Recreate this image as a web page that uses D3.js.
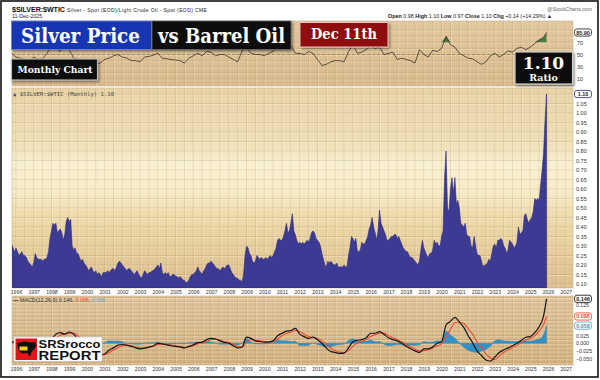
<!DOCTYPE html>
<html><head><meta charset="utf-8">
<script src="https://cdn.jsdelivr.net/npm/d3@7"></script>
<style>body{margin:0;background:#fff}svg{display:block}</style>
</head><body><svg id="c" width="600" height="380"></svg>
<script>
// ---------- DATA ----------
const firstYear = 1995, firstMonth = 9; // series starts October 1995 (monthly)
const ratio = [
0.31,0.29,0.27,
0.29,0.27,0.25,0.26,0.27,0.25,0.25,0.24,0.22,0.21,0.20,0.19,
0.21,0.26,0.24,0.23,0.23,0.23,0.22,0.23,0.23,0.24,0.27,0.34,
0.38,0.42,0.41,0.42,0.37,0.38,0.39,0.37,0.33,0.36,0.43,0.45,
0.43,0.44,0.30,0.28,0.29,0.26,0.26,0.24,0.22,0.23,0.21,0.20,
0.19,0.17,0.18,0.19,0.17,0.16,0.17,0.15,0.16,0.15,0.14,0.16,
0.16,0.16,0.17,0.16,0.17,0.18,0.18,0.17,0.19,0.21,0.22,0.21,
0.20,0.19,0.18,0.17,0.18,0.18,0.17,0.16,0.15,0.16,0.17,0.15,
0.14,0.13,0.15,0.17,0.16,0.15,0.16,0.16,0.17,0.17,0.18,0.19,
0.20,0.18,0.21,0.16,0.15,0.16,0.15,0.16,0.14,0.14,0.15,0.15,
0.14,0.14,0.13,0.14,0.13,0.12,0.12,0.105,0.11,0.12,0.14,0.15,
0.15,0.16,0.17,0.19,0.17,0.16,0.15,0.17,0.18,0.20,0.21,0.21,
0.22,0.21,0.20,0.19,0.18,0.18,0.17,0.18,0.19,0.18,0.19,0.20,
0.20,0.18,0.16,0.15,0.14,0.13,0.13,0.12,0.12,0.11,0.15,0.25,
0.30,0.29,0.26,0.25,0.22,0.21,0.22,0.25,0.24,0.23,0.24,0.23,
0.23,0.24,0.23,0.24,0.25,0.24,0.25,0.27,0.29,0.33,0.34,0.33,
0.33,0.35,0.38,0.42,0.37,0.38,0.42,0.47,0.38,0.36,0.33,0.31,
0.32,0.31,0.32,0.31,0.32,0.33,0.32,0.34,0.37,0.38,0.37,0.34,
0.33,0.32,0.30,0.26,0.23,0.20,0.19,0.22,0.21,0.22,0.21,0.20,
0.20,0.21,0.19,0.19,0.19,0.19,0.20,0.19,0.19,0.25,0.29,0.35,
0.34,0.32,0.34,0.27,0.27,0.28,0.32,0.31,0.31,0.33,0.35,0.39,
0.41,0.45,0.40,0.37,0.33,0.38,0.49,0.42,0.40,0.38,0.36,0.33,
0.33,0.34,0.35,0.35,0.36,0.36,0.34,0.35,0.33,0.31,0.29,0.28,
0.27,0.27,0.25,0.24,0.24,0.23,0.22,0.21,0.20,0.22,0.28,0.33,
0.29,0.27,0.25,0.24,0.26,0.26,0.28,0.33,0.31,0.32,0.30,0.30,
0.35,0.38,0.66,0.80,0.50,0.48,0.60,0.66,0.58,0.66,0.52,0.54,
0.50,0.42,0.41,0.40,0.42,0.36,0.35,0.35,0.30,0.29,0.35,0.30,
0.26,0.25,0.25,0.22,0.19,0.20,0.20,0.21,0.23,0.22,0.26,0.30,
0.31,0.29,0.33,0.33,0.34,0.33,0.30,0.29,0.26,0.28,0.33,0.32,
0.31,0.29,0.30,0.32,0.40,0.36,0.37,0.38,0.46,0.47,0.44,0.42,
0.44,0.45,0.48,0.55,0.54,0.55,0.54,0.62,0.70,0.79,0.96,1.10
];
// indicator readings, every 3 months from Oct 1995, last one = Dec 2025
const rsi = [
52,
46,44,42,38, 46,42,43,52, 64,60,55,66, 58,44,42,40, 38,36,34,36,
42,44,48,50, 46,44,40,40, 38,46,47,49, 52,44,43,42, 41,40,36,44,
48,52,48,55, 54,48,50,50, 46,42,38,56, 62,52,50,50, 48,52,55,63,
62,65,66,52, 52,50,55,52, 42,32,34,38, 40,40,38,55, 66,52,54,58,
64,60,62,50, 52,54,42,44, 42,40,36,58, 50,46,57,55, 60,80,66,62,
52,48,44,43, 38,34,38,48, 52,46,50,56, 54,60,62,58, 62,68,74,78,
86
];
const macd = [
0.005,
0.003,-0.002,-0.006,-0.012, -0.014,-0.010,-0.008,-0.004, 0.012,0.030,0.035,0.030,
0.037,0.030,0.012,-0.004, -0.018,-0.028,-0.034,-0.038, -0.035,-0.022,-0.015,-0.006,
-0.004,-0.006,-0.010,-0.015, -0.018,-0.016,-0.012,-0.008, 0.000,-0.002,-0.005,-0.008,
-0.010,-0.012,-0.015,-0.010, -0.005,0.002,0.004,0.012, 0.016,0.014,0.008,0.003,
0.000,-0.008,-0.015,-0.012, 0.020,0.016,0.008,0.006, 0.004,0.004,0.008,0.025,
0.033,0.040,0.042,0.049, 0.030,0.022,0.016,0.020, 0.012,0.000,-0.016,-0.027,
-0.030,-0.033,-0.032,-0.015, 0.005,0.010,0.012,0.018, 0.033,0.033,0.038,0.030,
0.018,0.012,0.008,0.000, -0.010,-0.018,-0.025,-0.030, -0.018,-0.018,-0.012,0.000,
0.005,0.060,0.072,0.085, 0.070,0.052,0.025,0.002, -0.025,-0.040,-0.055,-0.058,
-0.045,-0.030,-0.022,-0.015, -0.008,0.000,0.010,0.020, 0.022,0.035,0.054,0.090,
0.146
];
const signal = [
0.004,
0.004,0.002,-0.002,-0.007, -0.011,-0.011,-0.010,-0.007, 0.000,0.015,0.027,0.030,
0.032,0.034,0.024,0.010, -0.004,-0.016,-0.026,-0.034, -0.037,-0.030,-0.022,-0.014,
-0.008,-0.006,-0.008,-0.012, -0.015,-0.016,-0.014,-0.010, -0.004,-0.002,-0.004,-0.006,
-0.008,-0.011,-0.013,-0.012, -0.008,-0.002,0.002,0.006, 0.012,0.014,0.011,0.006,
0.003,-0.003,-0.010,-0.013, 0.004,0.012,0.010,0.008, 0.006,0.005,0.006,0.014,
0.025,0.032,0.037,0.042, 0.038,0.030,0.022,0.019, 0.016,0.008,-0.004,-0.016,
-0.024,-0.029,-0.030,-0.024, -0.010,0.002,0.006,0.012, 0.022,0.028,0.033,0.033,
0.026,0.018,0.012,0.005, -0.004,-0.012,-0.019,-0.025, -0.024,-0.021,-0.016,-0.008,
-0.002,0.020,0.045,0.068, 0.070,0.065,0.048,0.030, 0.005,-0.015,-0.035,-0.048,
-0.053,-0.042,-0.030,-0.022, -0.014,-0.006,0.003,0.012, 0.015,0.025,0.040,0.062,
0.088
];
const hist = [
0.001,
-0.001,-0.004,-0.004,-0.005, -0.003,0.001,0.002,0.003, 0.012,0.015,0.008,0.000,
0.005,-0.004,-0.012,-0.014, -0.014,-0.012,-0.008,-0.004, 0.002,0.008,0.007,0.008,
0.004,0.000,-0.002,-0.003, -0.003,0.000,0.002,0.002, 0.004,0.000,-0.001,-0.002,
-0.002,-0.001,-0.002,0.002, 0.003,0.004,0.002,0.006, 0.004,0.000,-0.003,-0.003,
-0.003,-0.005,-0.005,0.001, 0.016,0.004,-0.002,-0.002, -0.002,-0.001,0.002,0.011,
0.008,0.008,0.005,0.007, -0.008,-0.008,-0.006,0.001, -0.004,-0.008,-0.012,-0.011,
-0.006,-0.004,-0.002,0.009, 0.015,0.008,0.006,0.006, 0.011,0.005,0.005,-0.003,
-0.008,-0.006,-0.004,-0.005, -0.006,-0.006,-0.006,-0.005, 0.006,0.003,0.004,0.008,
0.007,0.040,0.027,0.017, 0.000,-0.013,-0.023,-0.028, -0.030,-0.025,-0.020,-0.010,
0.008,0.012,0.008,0.007, 0.006,0.006,0.007,0.008, 0.007,0.010,0.014,0.028,
0.058
];
const yearTicks = d3.range(1996, 2028);
const ratioTicks = [0.10,0.15,0.20,0.25,0.30,0.35,0.40,0.45,0.50,0.55,0.60,0.65,0.70,0.75,0.80,0.85,0.90,0.95,1.00,1.05];
const macdGrid = [-0.050,-0.025,0.000,0.025,0.050,0.075,0.100,0.125];
const macdTicks = [-0.050,-0.025,0.000,0.025,0.125]; // others hidden behind value tags
const rsiTicks = [10,30,50,70];
const lastValue = "1.10";
const macdLabels = ["0.146","0.088","0.058"];
const rsiLast = "85.90";

// ---------- LAYOUT ----------
const svg = d3.select('#c');
const L = 12, R = 573;
const P = {top:[21,86], main:[88,288], macd:[296,365]};
const x = d3.scaleLinear().domain([1996, 2026]).range([16, 548]);
const yMain = d3.scaleLinear().domain([0.10, 1.10]).range([284, 94]);
const yMacd = d3.scaleLinear().domain([0, 0.125]).range([343.3, 305.2]);
const yRsi = d3.scaleLinear().domain([10, 70]).range([79, 42.3]);
const monthTime = i => firstYear + (firstMonth + i) / 12;
const sampleTime = i => monthTime(Math.min(3 * i, ratio.length - 1));
const FONT = "'Liberation Sans', Arial, sans-serif";
const SERIF = "'DejaVu Serif', serif";

const defs = svg.append('defs');
function grad(id, stops){
  const g = defs.append('linearGradient').attr('id', id).attr('x1',0).attr('y1',0).attr('x2',0).attr('y2',1);
  stops.forEach(s => g.append('stop').attr('offset', s[0]).attr('stop-color', s[1]));
}
grad('gTop', [[0,'#e2c89e'],[1,'#d8ba8c']]);
grad('gMain', [[0,'#e8d3a6'],[0.28,'#efe0b6'],[0.38,'#f8f0d0'],[0.52,'#f7ecc8'],[0.64,'#eedbab'],[1,'#dcbe8c']]);
grad('gMacd', [[0,'#e0c59b'],[1,'#d3b07e']]);
Object.entries(P).forEach(([k, v]) => {
  defs.append('clipPath').attr('id', 'clip-' + k).append('rect')
    .attr('x', L).attr('y', v[0]).attr('width', R - L).attr('height', v[1] - v[0]);
});
const sh = defs.append('filter').attr('id','sh').attr('x','-10%').attr('y','-10%').attr('width','130%').attr('height','140%');
sh.append('feDropShadow').attr('dx',1.5).attr('dy',1.5).attr('stdDeviation',1.2).attr('flood-color','#000').attr('flood-opacity',0.45);

// panel backgrounds + grid
function panel(key, fill, hTicks, yScale){
  const [t, b] = P[key];
  svg.append('rect').attr('x', L).attr('y', t).attr('width', R - L).attr('height', b - t)
    .attr('fill', `url(#${fill})`).attr('stroke', '#c9b08a').attr('stroke-width', 0.6);
  const g = svg.append('g').attr('clip-path', `url(#clip-${key})`);
  const vx = d3.range(1995.5, 2027.6, 0.5);
  g.selectAll('line.v').data(vx).join('line').attr('x1', d => x(d)).attr('x2', d => x(d))
    .attr('y1', t).attr('y2', b).attr('stroke', 'rgba(150,110,60,0.22)').attr('stroke-width', 0.8);
  g.selectAll('line.v2').data(vx).join('line').attr('x1', d => x(d) + 1).attr('x2', d => x(d) + 1)
    .attr('y1', t).attr('y2', b).attr('stroke', 'rgba(255,250,235,0.35)').attr('stroke-width', 0.8);
  g.selectAll('line.h').data(hTicks).join('line').attr('x1', L).attr('x2', R)
    .attr('y1', d => yScale(d)).attr('y2', d => yScale(d)).attr('stroke', 'rgba(150,110,60,0.22)').attr('stroke-width', 0.8);
  g.selectAll('line.h2').data(hTicks).join('line').attr('x1', L).attr('x2', R)
    .attr('y1', d => yScale(d) + 1).attr('y2', d => yScale(d) + 1).attr('stroke', 'rgba(255,250,235,0.35)').attr('stroke-width', 0.8);
  return g;
}
const gTop = panel('top', 'gTop', d3.range(10, 100, 10), yRsi);
const gMain = panel('main', 'gMain', ratioTicks.concat([1.10]), yMain);
const gMacd = panel('macd', 'gMacd', d3.range(-0.0625, 0.16, 0.0125), yMacd);

// ---------- TOP PANEL (RSI) ----------
const rsiPts = rsi.map((v, i) => [sampleTime(i), v]);
gTop.append('line').attr('x1', L).attr('x2', R).attr('y1', yRsi(50)).attr('y2', yRsi(50))
  .attr('stroke', '#8a7458').attr('stroke-width', 0.6).attr('stroke-dasharray', '3,2');
gTop.append('path').datum(rsiPts)
  .attr('d', d3.area().x(d => x(d[0])).y0(yRsi(70)).y1(d => yRsi(Math.max(70, d[1]))))
  .attr('fill', '#4d7a3a');
gTop.append('path').datum(rsiPts)
  .attr('d', d3.line().x(d => x(d[0])).y(d => yRsi(d[1])))
  .attr('fill', 'none').attr('stroke', '#3a3328').attr('stroke-width', 0.8);
const aRsi = svg.append('g').attr('transform', `translate(${R},0)`)
  .call(d3.axisRight(yRsi).tickValues(rsiTicks).tickSize(0).tickPadding(4).tickFormat(d3.format('d')));
aRsi.select('.domain').remove();
aRsi.attr('font-size', 5.5).attr('font-family', FONT).selectAll('text').attr('fill', '#333');
function tag(yv, txt, stroke, color){
  const g = svg.append('g');
  g.append('rect').attr('x', R + 1.5).attr('y', yv - 3.6).attr('width', 17).attr('height', 7.2).attr('rx', 2.5)
    .attr('fill', '#fff').attr('stroke', stroke).attr('stroke-width', 0.9);
  g.append('text').attr('x', R + 10).attr('y', yv + 2).attr('text-anchor', 'middle')
    .attr('font-size', 5.4).attr('font-family', FONT).attr('font-weight', 'bold').attr('fill', color).text(txt);
}
tag(yRsi(86), rsiLast, '#333', '#222');

// ---------- MAIN PANEL ----------
const rPts = ratio.map((v, i) => [monthTime(i), v]);
gMain.append('path').datum(rPts)
  .attr('d', d3.area().x(d => x(d[0])).y0(P.main[1]).y1(d => yMain(d[1])))
  .attr('fill', '#3d3a93').attr('stroke', '#2c2a7e').attr('stroke-width', 0.6);
const aMain = svg.append('g').attr('transform', `translate(${R},0)`)
  .call(d3.axisRight(yMain).tickValues(ratioTicks).tickSize(0).tickPadding(3).tickFormat(d3.format('.2f')));
aMain.select('.domain').remove();
aMain.attr('font-size', 5.5).attr('font-family', FONT).selectAll('text').attr('fill', '#333');
tag(yMain(1.10), lastValue, '#3d3a93', '#222');
const lg = svg.append('text').attr('x', 13).attr('y', 95.5).attr('font-size', 5.6).attr('font-family', "'DejaVu Sans Mono', monospace");
lg.append('tspan').attr('fill', '#3d3a93').text('▲ ');
lg.append('tspan').attr('fill', '#444').text('$SILVER:$WTIC (Monthly) 1.10');

// ---------- MACD PANEL ----------
const mPts = macd.map((v, i) => [sampleTime(i), v]);
const sPts = signal.map((v, i) => [sampleTime(i), v]);
const hPts = hist.map((v, i) => [sampleTime(i), v]);
gMacd.append('path').datum(hPts)
  .attr('d', d3.area().curve(d3.curveMonotoneX).x(d => x(d[0])).y0(yMacd(0)).y1(d => yMacd(d[1])))
  .attr('fill', '#3491c4').attr('stroke', '#2a7fb0').attr('stroke-width', 0.4);
gMacd.append('path').datum(sPts)
  .attr('d', d3.line().curve(d3.curveMonotoneX).x(d => x(d[0])).y(d => yMacd(d[1])))
  .attr('fill', 'none').attr('stroke', '#ee4a35').attr('stroke-width', 1.1);
gMacd.append('path').datum(mPts)
  .attr('d', d3.line().curve(d3.curveMonotoneX).x(d => x(d[0])).y(d => yMacd(d[1])))
  .attr('fill', 'none').attr('stroke', '#141414').attr('stroke-width', 1.2);
const aMacd = svg.append('g').attr('transform', `translate(${R},0)`)
  .call(d3.axisRight(yMacd).tickValues(macdTicks).tickSize(0).tickPadding(3).tickFormat(d3.format('.3f')));
aMacd.select('.domain').remove();
aMacd.attr('font-size', 5.2).attr('font-family', FONT).selectAll('text').attr('fill', '#333');
tag(yMacd(0.146), macdLabels[0], '#222', '#222');
tag(yMacd(0.088), macdLabels[1], '#e8503a', '#e8503a');
tag(yMacd(0.058), macdLabels[2], '#6aaad0', '#5a8fb0');
const ml = svg.append('text').attr('x', 13).attr('y', 301.5).attr('font-size', 5.4).attr('font-family', FONT);
ml.append('tspan').attr('fill', '#222').attr('font-weight', 'bold').text('— ');
ml.append('tspan').attr('fill', '#333').text('MACD(12,26,9) 0.146, ');
ml.append('tspan').attr('fill', '#ee4a35').text('0.088');
ml.append('tspan').attr('fill', '#333').text(', ');
ml.append('tspan').attr('fill', '#6aaad0').text('0.058');

// ---------- X AXES ----------
[P.main[1], P.macd[1]].forEach(yy => {
  const a = svg.append('g').attr('transform', `translate(0,${yy})`)
    .call(d3.axisBottom(x).tickValues(yearTicks).tickSize(0).tickPadding(2.3).tickFormat(d3.format('d')));
  a.select('.domain').remove();
  a.attr('font-size', 5.2).attr('font-family', FONT).selectAll('text').attr('fill', '#333');
});

// ---------- HEADER ----------
svg.append('text').attr('x', 12).attr('y', 11.5).attr('font-size', 7.2).attr('font-weight', 'bold')
  .attr('font-family', FONT).attr('fill', '#111').attr('textLength', 53).text('$SILVER:$WTIC');
svg.append('text').attr('x', 67).attr('y', 11.5).attr('font-size', 5.1).attr('font-family', FONT)
  .attr('fill', '#222').attr('textLength', 140).text('Silver - Spot (EOD)/Light Crude Oil - Spot (EOD) CME');
svg.append('text').attr('x', 12).attr('y', 18).attr('font-size', 5.3).attr('font-family', FONT)
  .attr('fill', '#222').text('11-Dec-2025');
svg.append('text').attr('x', 592).attr('y', 11).attr('text-anchor', 'end').attr('font-size', 5.2)
  .attr('font-family', FONT).attr('fill', '#666').text('@StockCharts.com');
const oh = svg.append('text').attr('x', 388).attr('y', 18.2).attr('font-size', 5.4).attr('font-family', FONT).attr('fill', '#222');
[['Open',' 0.98  '],['High',' 1.10  '],['Low',' 0.97  '],['Close',' 1.10  '],['Chg',' +0.14 (+14.29%) ▲']].forEach(p => {
  oh.append('tspan').attr('font-weight', 'bold').text(p[0]);
  oh.append('tspan').text(p[1]);
});

// ---------- TITLE BOXES ----------
function box(x0, y0, w, h, fill, stroke, sw){
  svg.append('rect').attr('x', x0).attr('y', y0).attr('width', w).attr('height', h)
    .attr('fill', fill).attr('stroke', stroke).attr('stroke-width', sw).attr('filter', 'url(#sh)');
}
function title(tx, ty, size, len, txt){
  svg.append('text').attr('x', tx).attr('y', ty).attr('font-size', size).attr('font-weight', 'bold')
    .attr('font-family', SERIF).attr('fill', '#fff').attr('textLength', len).attr('lengthAdjust', 'spacingAndGlyphs').text(txt);
}
box(11.5, 21, 140, 28.5, '#1836b2', '#6f86d6', 0.8);
title(21, 42.5, 21, 119, 'Silver Price');
box(152, 21, 139, 28.5, '#0b0b0b', '#6a6a6a', 0.8);
title(158, 42.5, 21, 127, 'vs Barrel Oil');
box(300, 22.5, 88, 24.5, '#8e0f10', '#e9c3c3', 1);
title(311, 39, 14.5, 66, 'Dec 11th');
box(11.5, 59, 86, 21, '#0b0b0b', '#b8b8b8', 1.2);
title(17.5, 73, 10, 75, 'Monthly Chart');
box(515, 52, 57.5, 32, '#0b0b0b', '#d0d0d0', 1.2);
svg.append('text').attr('x', 543.5).attr('y', 68.5).attr('text-anchor', 'middle').attr('font-size', 17)
  .attr('font-weight', 'bold').attr('font-family', SERIF).attr('fill', '#fff').text('1.10');
svg.append('text').attr('x', 543.5).attr('y', 81).attr('text-anchor', 'middle').attr('font-size', 9.5)
  .attr('font-weight', 'bold').attr('font-family', SERIF).attr('fill', '#fff').text('Ratio');

// ---------- LOGO ----------
const lgG = svg.append('g');
lgG.append('rect').attr('x', 14).attr('y', 337).attr('width', 88).attr('height', 24.5).attr('fill', '#fff')
  .attr('stroke', '#bbb').attr('stroke-width', 0.6);
lgG.append('rect').attr('x', 15.5).attr('y', 338.5).attr('width', 21.5).attr('height', 21.5).attr('fill', '#e3141b');
lgG.append('path').attr('d', 'M17,343 L24,341.5 L31,342.5 L35.5,342 L36,346 L34,349.5 L31.5,352 L30,357 L27.5,353 L22,353.5 L19,351 L17.5,347 Z')
  .attr('fill', '#111');
lgG.append('rect').attr('x', 19.5).attr('y', 346.5).attr('width', 8).attr('height', 4).attr('fill', '#f2d21b');
lgG.append('text').attr('x', 38.5).attr('y', 347.5).attr('font-size', 11).attr('font-weight', 'bold')
  .attr('font-family', FONT).attr('fill', '#111').attr('textLength', 62).attr('lengthAdjust', 'spacingAndGlyphs').text('SRSrocco');
lgG.append('text').attr('x', 38.5).attr('y', 359.5).attr('font-size', 12.5).attr('font-weight', 'bold')
  .attr('font-family', FONT).attr('fill', '#111').attr('textLength', 62).attr('lengthAdjust', 'spacingAndGlyphs').text('REPORT');

// ---------- FRAME ----------
svg.append('rect').attr('x', 1).attr('y', 1).attr('width', 597).attr('height', 376)
  .attr('fill', 'none').attr('stroke', '#111').attr('stroke-width', 1.6);
</script>
</body></html>
